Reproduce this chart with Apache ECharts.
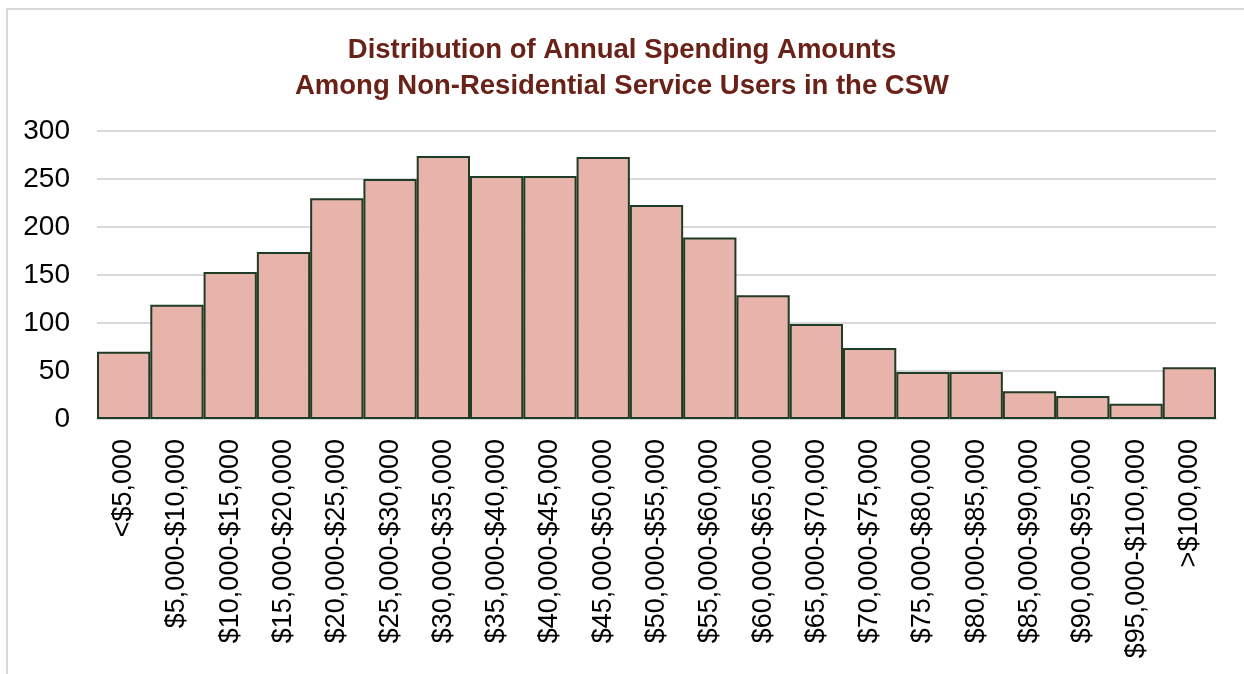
<!DOCTYPE html>
<html>
<head>
<meta charset="utf-8">
<script src="https://cdn.jsdelivr.net/npm/echarts@6/dist/echarts.min.js"></script>
<style>
    html, body { margin: 0; padding: 0; background: #fff; }
    #frame {
        position: absolute; left: 6px; top: 8px;
        width: 1300px; height: 700px;
        border: 2px solid #d9d9d9; box-sizing: border-box;
    }
    #spending_chart { position: absolute; left: 0; top: 0; width: 1244px; height: 674px; }
</style>
</head>
<body>
<div id="frame"></div>
<div id="spending_chart"></div>
<script>
// spending bands
var categories = [
    '<$5,000', '$5,000-$10,000', '$10,000-$15,000', '$15,000-$20,000',
    '$20,000-$25,000', '$25,000-$30,000', '$30,000-$35,000', '$35,000-$40,000',
    '$40,000-$45,000', '$45,000-$50,000', '$50,000-$55,000', '$55,000-$60,000',
    '$60,000-$65,000', '$65,000-$70,000', '$70,000-$75,000', '$75,000-$80,000',
    '$80,000-$85,000', '$85,000-$90,000', '$90,000-$95,000', '$95,000-$100,000',
    '>$100,000'
];
// number of users per band
var userCounts = [70, 119, 153, 174, 230, 250, 274, 253, 253, 273, 223, 189, 129, 99, 74, 49, 49, 29, 24, 16, 54];
var yTicks = [0, 50, 100, 150, 200, 250, 300];

var myChart = echarts.init(document.getElementById('spending_chart'));
var option = {
    animation: false,
    title: {
        text: 'Distribution of Annual Spending Amounts\nAmong Non-Residential Service Users in the CSW',
        left: 'center',
        top: 27,
        textStyle: {
            color: '#6a2118',
            fontFamily: 'Liberation Sans',
            fontWeight: 'bold',
            fontSize: 27.5,
            lineHeight: 36
        }
    },
    grid: {
        left: 97,
        right: 28,
        top: 131,
        bottom: 255,
        containLabel: false
    },
    xAxis: {
        type: 'category',
        data: categories,
        axisLine: { show: true, lineStyle: { color: '#d9d9d9', width: 2 } },
        axisTick: { show: false },
        axisLabel: {
            rotate: 90,
            interval: 0,
            margin: 20,
            color: '#000',
            fontFamily: 'Liberation Sans',
            fontSize: 27
        }
    },
    yAxis: {
        type: 'value',
        min: yTicks[0],
        max: yTicks[yTicks.length - 1],
        interval: 50,
        axisLine: { show: false },
        axisTick: { show: false },
        axisLabel: {
            margin: 27,
            color: '#000',
            fontFamily: 'Liberation Sans',
            fontSize: 28
        },
        splitLine: {
            show: true,
            lineStyle: { color: '#d9d9d9', width: 2 }
        }
    },
    series: [
        {
            type: 'bar',
            data: userCounts,
            barCategoryGap: '0%',
            itemStyle: {
                color: '#e8b3aa',
                borderColor: '#1f3d26',
                borderWidth: 2
            }
        }
    ]
};
myChart.setOption(option);
</script>
</body>
</html>
